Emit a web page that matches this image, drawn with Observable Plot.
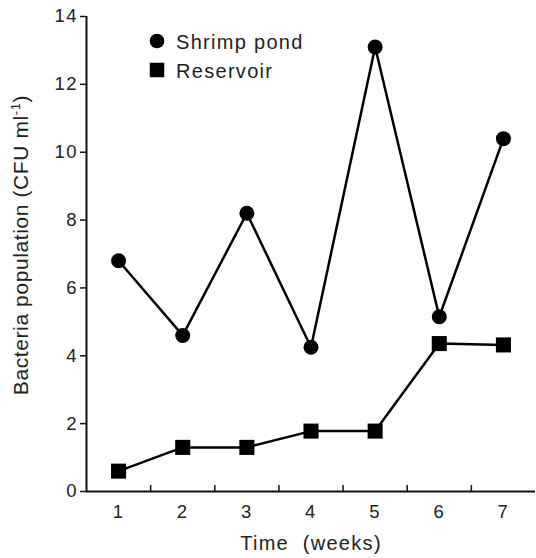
<!DOCTYPE html>
<html>
<head>
<meta charset="utf-8">
<script src="https://cdn.jsdelivr.net/npm/d3@7"></script>
<script src="https://cdn.jsdelivr.net/npm/@observablehq/plot@0.6"></script>
<style>
  html, body { margin: 0; padding: 0; background: #fff; }
  #chart svg { font-family: "Liberation Sans", Arial, sans-serif; display: block; }
</style>
</head>
<body>
<div id="chart"></div>
<script>
const weeks = [1, 2, 3, 4, 5, 6, 7];
const shrimpPond = [6.8, 4.6, 8.2, 4.25, 13.1, 5.15, 10.4];
const reservoir = [0.6, 1.3, 1.3, 1.78, 1.78, 4.36, 4.32];
const yTicks = [0, 2, 4, 6, 8, 10, 12, 14];
const weekBoundaries = [1.5, 2.5, 3.5, 4.5, 5.5, 6.5];
const seriesNames = ["Shrimp pond", "Reservoir"];

const shrimpRows = weeks.map((w, i) => ({week: w, value: shrimpPond[i]}));
const reservoirRows = weeks.map((w, i) => ({week: w, value: reservoir[i]}));

const chart = Plot.plot({
  width: 536,
  height: 558,
  marginLeft: 86,
  marginRight: 1,
  marginTop: 16,
  marginBottom: 67,
  style: {fontFamily: "'Liberation Sans', Arial, sans-serif", color: "#222", background: "#fff"},
  x: {domain: [0.5, 7.5]},
  y: {domain: [0, 14]},
  marks: [
    Plot.ruleY([0], {stroke: "#111", strokeWidth: 2}),
    Plot.ruleX([0.5], {stroke: "#111", strokeWidth: 2}),
    Plot.axisY({ticks: yTicks, tickSize: 6, tickPadding: 4, fontSize: 18.5, label: null, strokeWidth: 1.5, stroke: "#111"}),
    Plot.axisX({ticks: weeks, tickSize: 0, tickPadding: 13, fontSize: 18.5, tickFormat: d => String(d), label: null}),
    Plot.axisX({anchor: "top", frameAnchor: "bottom", ticks: weekBoundaries, tickSize: 7, tickFormat: () => "", label: null, strokeWidth: 1.5, stroke: "#111"}),
    Plot.line(shrimpRows, {x: "week", y: "value", stroke: "#000", strokeWidth: 2.5}),
    Plot.line(reservoirRows, {x: "week", y: "value", stroke: "#000", strokeWidth: 2.5}),
    Plot.dot(shrimpRows, {x: "week", y: "value", r: 7.5, fill: "#000", symbol: "circle"}),
    Plot.dot(reservoirRows, {x: "week", y: "value", r: 8.5, fill: "#000", symbol: "square"})
  ]
});

const svg = d3.select(chart);
svg.selectAll("g[aria-label='y-axis tick label'] text").attr("letter-spacing", "1.5px").attr("dx", "1.5");
svg.selectAll("g[aria-label='x-axis tick label'] text").attr("letter-spacing", "1.5px");

// Y-axis title with superscript
const yl = svg.append("text")
  .attr("transform", "translate(28,245) rotate(-90)")
  .attr("text-anchor", "middle")
  .attr("font-size", 21)
  .attr("letter-spacing", "0.6px")
  .attr("fill", "#222");
yl.append("tspan").text("Bacteria population (CFU ml");
yl.append("tspan").attr("font-size", 13).attr("dy", -8).text("-1");
yl.append("tspan").attr("dy", 8).text(")");

// X-axis title
svg.append("text")
  .attr("x", 311)
  .attr("y", 550)
  .attr("text-anchor", "middle")
  .attr("font-size", 20)
  .attr("letter-spacing", "1.3px")
  .attr("fill", "#222")
  .attr("style", "white-space: pre")
  .text("Time  (weeks)");

// Legend
const sym = [d3.symbolCircle, d3.symbolSquare];
const sizes = [Math.PI * 7.3 * 7.3, 14.5 * 14.5];
seriesNames.forEach((name, i) => {
  const cy = 41 + i * 29;
  svg.append("path")
    .attr("d", d3.symbol(sym[i], sizes[i])())
    .attr("transform", `translate(157,${cy})`)
    .attr("fill", "#000");
  svg.append("text")
    .attr("x", 176)
    .attr("y", cy + 8)
    .attr("text-anchor", "start")
    .attr("font-size", 20)
    .attr("letter-spacing", "1.3px")
    .attr("fill", "#222")
    .text(name);
});

document.getElementById("chart").appendChild(chart);
</script>
</body>
</html>
